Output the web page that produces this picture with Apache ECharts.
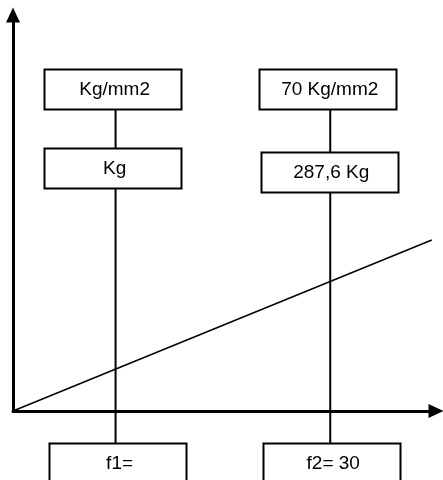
<!DOCTYPE html>
<html>
<head>
<meta charset="utf-8">
<script src="https://cdn.jsdelivr.net/npm/echarts@6/dist/echarts.min.js"></script>
<style>
  html, body { margin: 0; padding: 0; background: #fff; }
  #main { width: 443px; height: 480px; }
</style>
</head>
<body>
<div id="main"></div>
<script>
// f positions on the horizontal axis (f1 is blank in the drawing)
const fValues = [9.7, 30];
// straight line from the origin
const lineX = [0, 39.6];
const lineY = [0, 380];
// box texts, one per f column
const topLabels = ['Kg/mm2', '70 Kg/mm2'];
const midLabels = ['Kg', '287,6 Kg'];
const bottomLabels = ['f1=', 'f2= 30'];

const chart = echarts.init(document.getElementById('main'), null, { renderer: 'canvas' });

const axisCommon = {
    type: 'value',
    min: 0,
    axisLabel: { show: false },
    axisTick: { show: false },
    splitLine: { show: false },
    axisLine: {
        show: true,
        symbol: ['none', 'triangle'],
        symbolSize: [14, 15],
        lineStyle: { color: '#000', width: 3 }
    }
};

chart.setOption({
    animation: false,
    backgroundColor: '#fff',
    grid: { left: 13, right: 7, top: 15, bottom: 69 },
    xAxis: Object.assign({}, axisCommon, { max: 40 }),
    yAxis: Object.assign({}, axisCommon, { max: 880 }),
    series: [{
        type: 'line',
        data: lineX.map((x, i) => [x, lineY[i]]),
        symbol: 'none',
        lineStyle: { color: '#000', width: 1.5 }
    }]
});

// boxes hang off vertical lines at each f value
const rows = [
    { labels: topLabels, y: [69, 69], h: 40, dx: [-3, -2.5] },
    { labels: midLabels, y: [148, 152], h: 40, dx: [-3, -1] },
    { labels: bottomLabels, y: [443, 443], h: 50, dx: [2, 1] }
];
const boxW = 137;
const graphics = [];

fValues.forEach((f, i) => {
    const px = chart.convertToPixel({ xAxisIndex: 0 }, f);
    graphics.push({
        type: 'line',
        z: 1,
        shape: { x1: px, y1: 109, x2: px, y2: 443 },
        style: { stroke: '#000', lineWidth: 2 }
    });
    rows.forEach(row => {
        const cx = px + row.dx[i];
        graphics.push({
            type: 'rect',
            z: 2,
            shape: { x: Math.round(cx - boxW / 2) + 0.5, y: row.y[i] + 0.5, width: boxW, height: row.h },
            style: { fill: '#fff', stroke: '#000', lineWidth: 2 }
        });
        graphics.push({
            type: 'text',
            z: 3,
            x: cx + 2,
            y: row.y[i] + 21,
            style: {
                text: row.labels[i],
                fontSize: 19,
                fontFamily: '"Liberation Sans", Arial, sans-serif',
                fill: '#000',
                textAlign: 'center',
                textVerticalAlign: 'middle'
            }
        });
    });
});

chart.setOption({ graphic: graphics });

window.addEventListener('resize', () => chart.resize());
</script>
</body>
</html>
